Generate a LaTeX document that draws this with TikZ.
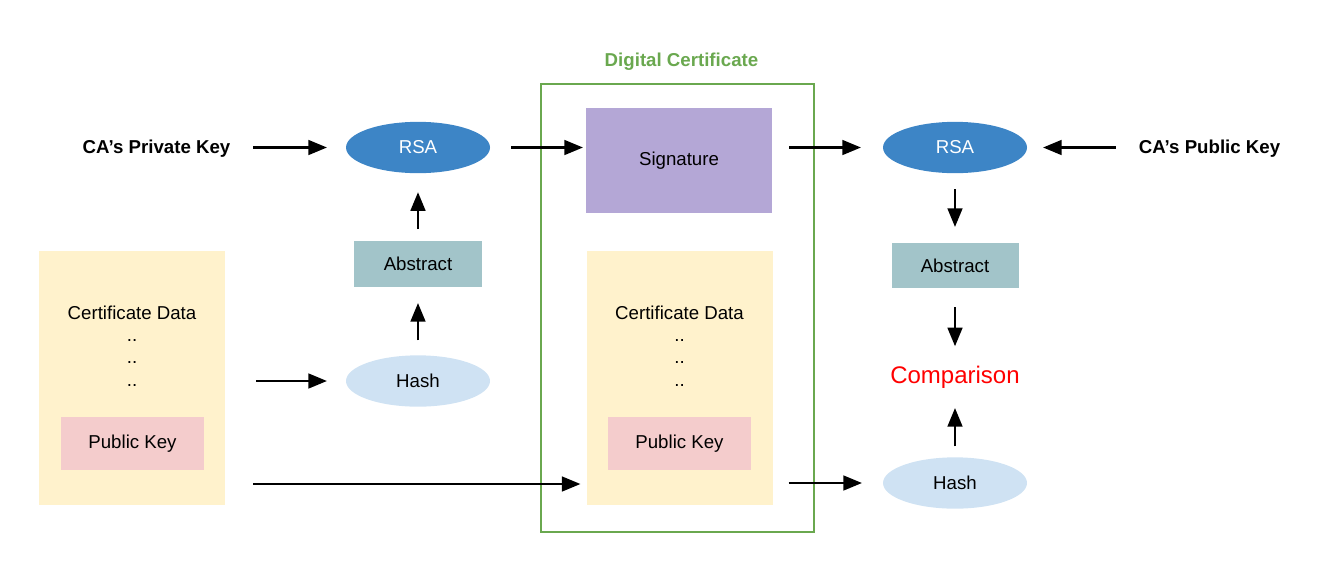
\documentclass[tikz,border=0pt]{standalone}
\usepackage{fontspec}
\setmainfont{Liberation Sans}
\usetikzlibrary{arrows.meta,shapes.geometric}
\definecolor{rsablue}{HTML}{3D85C6}
\definecolor{hashblue}{HTML}{CFE2F3}
\definecolor{abstractteal}{HTML}{A2C4C9}
\definecolor{sigpurple}{HTML}{B4A7D6}
\definecolor{certyellow}{HTML}{FFF2CC}
\definecolor{keypink}{HTML}{F4CCCC}
\definecolor{certgreen}{HTML}{6AA84F}
\tikzset{
	arr/.style={line width=2pt, -{Triangle[length=14pt,width=11pt]}},
	oval/.style={ellipse, minimum width=108pt, minimum height=38.5pt, inner sep=0pt, outer sep=0pt},
	box/.style={rectangle, inner sep=0pt, outer sep=0pt},
	txt/.style={inner sep=0pt, outer sep=0pt},
	abstractbox/.style={box, fill=abstractteal, minimum width=96pt, minimum height=34.5pt},
	databox/.style={box, fill=certyellow, minimum width=139.5pt, minimum height=190.5pt},
	keybox/.style={box, fill=keypink, minimum width=107.25pt, minimum height=39.75pt}
}

\begin{document}
\begin{tikzpicture}[x=0.75pt, y=-0.75pt, font=\fontsize{14}{17}\selectfont]
			%%%%% START %%%%%
			\useasboundingbox (0, 0) rectangle (1329, 576);
			
			% left: signing side
			\node[txt, anchor=base, font=\fontsize{14}{17}\selectfont\bfseries] (privK) at (156.5, 153) {CA’s Private Key};
			\node[oval, fill=rsablue, text=white] (rsaL) at (418, 147.5) {RSA};
			\node[abstractbox] (absL) at (418, 264) {Abstract};
			\node[oval, fill=hashblue] (hashL) at (418, 381) {Hash};
			
			\node[databox] (certL) at (132, 378) {};
			\node[txt, anchor=base] (dataL) at (132, 319) {Certificate Data};
			\foreach \y [count=\i] in {341, 363, 386}
				\node[txt, anchor=base] (dotsL\i) at (132, \y) {..};
			\node[keybox] (pkL) at (132.5, 443.5) {Public Key};
			
			% the certificate
			\draw[certgreen, line width=1.5pt] (541, 84) rectangle (814, 532);
			\node[txt, anchor=base, text=certgreen, font=\fontsize{14}{17}\selectfont\bfseries] (title) at (681.5, 66) {Digital Certificate};
			\node[box, fill=sigpurple, minimum width=139.5pt, minimum height=78.75pt] (sig) at (679, 160.5) {Signature};
			
			\node[databox] (certM) at (679.5, 377.5) {};
			\node[txt, anchor=base] (dataM) at (679.5, 319) {Certificate Data};
			\foreach \y [count=\i] in {341, 363, 386}
				\node[txt, anchor=base] (dotsM\i) at (679.5, \y) {..};
			\node[keybox] (pkM) at (679.5, 443.5) {Public Key};
			
			% right: checking side
			\node[txt, anchor=base, font=\fontsize{14}{17}\selectfont\bfseries] (pubK) at (1209.5, 153) {CA’s Public Key};
			\node[oval, fill=rsablue, text=white] (rsaR) at (955, 147.5) {RSA};
			\node[abstractbox, minimum width=95.25pt, minimum height=33.75pt] (absR) at (955, 265.5) {Abstract};
			\node[txt, anchor=base, text=red, font=\fontsize{18}{21}\selectfont] (cmp) at (955, 383) {Comparison};
			\node[oval, fill=hashblue] (hashR) at (955, 483) {Hash};
			
			% arrows
			\draw[arr, shorten <=17.25pt, shorten >=14.25pt] (privK.east |- rsaL) -- (rsaL.west);
			\draw[arr, shorten <=15.75pt, shorten >=2.25pt] (rsaL.east) -- (rsaL -| sig.west);
			\draw[arr, shorten <=12.75pt, shorten >=16.5pt] (sig.east |- rsaR) -- (rsaR.west);
			\draw[arr, shorten <=17.25pt, shorten >=12pt] (pubK.west |- rsaR) -- (rsaR.east);
			
			\draw[arr, shorten <=9pt, shorten >=14.25pt] (absL.north) -- (rsaL.south);
			\draw[arr, shorten <=11.25pt, shorten >=12pt] (hashL.north) -- (absL.south);
			\draw[arr, shorten <=23.25pt, shorten >=14.25pt] (certL.east |- hashL) -- (hashL.west);
			\draw[arr, shorten <=21pt, shorten >=4.5pt] ([yshift=15.75pt]certL.south east) -- ([yshift=15.75pt]certL.south east -| certM.west);
			
			\draw[arr, shorten <=12pt, shorten >=15.75pt] (certM.east |- hashR) -- (hashR.west);
			\draw[arr, shorten <=12pt, shorten >=12pt] (rsaR.south) -- (absR.north);
			\draw[arr, shorten <=14.25pt, shorten >=14.5pt] (absR.south) -- (cmp.north);
			\draw[arr, shorten <=8.25pt, shorten >=15pt] (hashR.north) -- (cmp.south);
			
			%%%%% END %%%%%
\end{tikzpicture}
\end{document}
